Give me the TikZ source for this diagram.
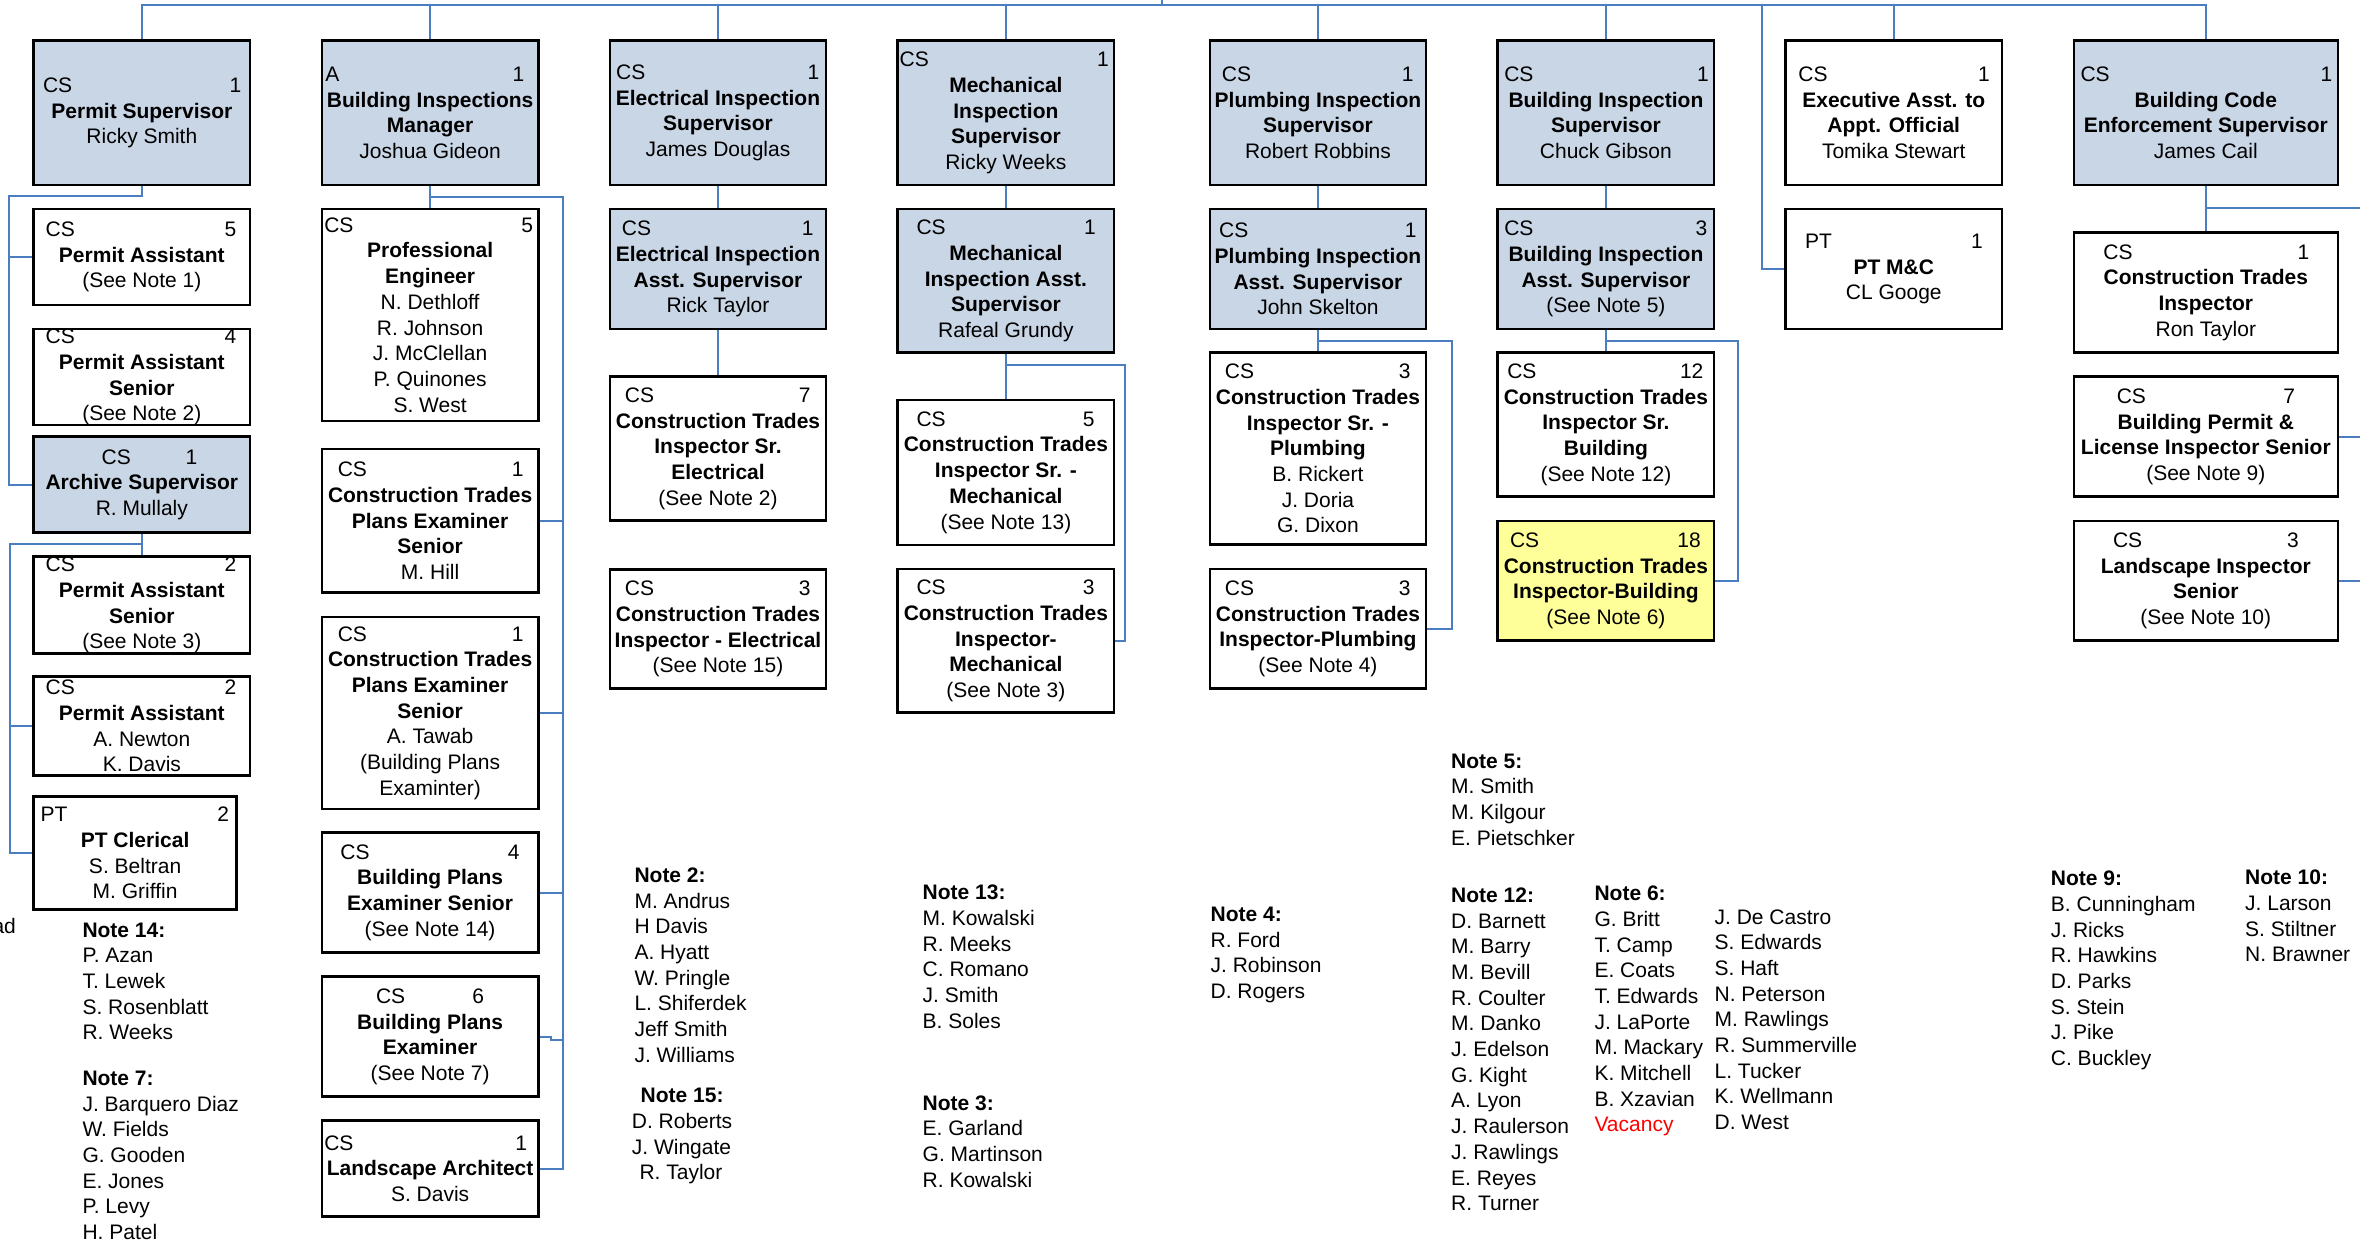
\documentclass[tikz,border=0pt]{standalone}
\usepackage{fontspec}
\setmainfont{Liberation Sans}
\usetikzlibrary{calc}
\definecolor{boxblue}{RGB}{201,214,230}
\definecolor{boxyellow}{RGB}{255,255,153}
\definecolor{connblue}{RGB}{74,126,193}
\newcommand{\boxfont}{\fontsize{21}{25.7}\selectfont}
\newcommand{\hdr}[4]{\hspace*{#1pt}#2\hfill #3\hspace*{#4pt}}
\newcommand{\orgbox}[8]{%
  \node[#2, minimum width={#5-#3}, minimum height={#6-#4}] (#1) at ({(#3+#5)/2},{(#4+#6)/2}) {};
  \pgfmathsetmacro\obw{#5-#3}%
  \node[txt] at (#1.center) {\makebox[\obw pt]{#7}\\#8};
}
\tikzset{
  boxbase/.style={draw=black, line width=2.5pt, rectangle, inner sep=0pt},
  hbox/.style={boxbase, fill=boxblue},
  wbox/.style={boxbase, fill=white},
  ybox/.style={boxbase, fill=boxyellow},
  conn/.style={draw=connblue, line width=2pt},
  txt/.style={align=center, inner sep=0pt, font=\boxfont},
  note/.style={align=left, anchor=north west, inner sep=0pt, font=\boxfont},
}
\begin{document}
\begin{tikzpicture}[x=1pt,y=-1pt]
\fill[white] (0,0) rectangle (2360,1242);
\useasboundingbox (0,0) rectangle (2360,1242);

% ---------- Column 1: Permits
\orgbox{ps}{hbox}{33.7}{40.7}{250}{185}{\hdr{9.3}{CS}{1}{8.8}}{\textbf{Permit Supervisor}\\Ricky Smith}
\orgbox{pa1}{wbox}{33.7}{209}{250}{305}{\hdr{12}{CS}{5}{13.6}}{\textbf{Permit Assistant}\\(See Note 1)}
\orgbox{pas2}{wbox}{33.7}{329}{250}{425}{\hdr{12}{CS}{4}{13.6}}{\textbf{Permit Assistant}\\\textbf{Senior}\\(See Note 2)}
\orgbox{arch}{hbox}{33.7}{436.7}{250}{532.7}{\hdr{68}{CS}{1}{52.8}}{\textbf{Archive Supervisor}\\R. Mullaly}
\orgbox{pas3}{wbox}{33.7}{556.7}{250}{653.3}{\hdr{12}{CS}{2}{13.6}}{\textbf{Permit Assistant}\\\textbf{Senior}\\(See Note 3)}
\orgbox{pa2}{wbox}{33.7}{676.7}{250}{775.7}{\hdr{12}{CS}{2}{13.6}}{\textbf{Permit Assistant}\\A. Newton\\K. Davis}
\orgbox{ptc}{wbox}{33.7}{796.7}{236.5}{909.3}{\hdr{7}{PT}{2}{7.5}}{\textbf{PT Clerical}\\S. Beltran\\M. Griffin}

% ---------- Column 2: Building Inspections Manager
\orgbox{bim}{hbox}{321.8}{40.7}{538.4}{185}{\hdr{3.5}{A}{1}{14}}{\textbf{Building Inspections}\\\textbf{Manager}\\Joshua Gideon}
\orgbox{pe}{wbox}{321.8}{209}{538.4}{421}{\hdr{2.5}{CS}{5}{5.4}}{\textbf{Professional}\\\textbf{Engineer}\\N. Dethloff\\R. Johnson\\J. McClellan\\P. Quinones\\S. West}
\orgbox{ctpesa}{wbox}{321.8}{449}{538.4}{592.7}{\hdr{16}{CS}{1}{14.8}}{\textbf{Construction Trades}\\\textbf{Plans Examiner}\\\textbf{Senior}\\M. Hill}
\orgbox{ctpesb}{wbox}{321.8}{617}{538.4}{809}{\hdr{16}{CS}{1}{14.8}}{\textbf{Construction Trades}\\\textbf{Plans Examiner}\\\textbf{Senior}\\A. Tawab\\(Building Plans\\Examinter)}
\orgbox{bpes}{wbox}{321.8}{832.7}{538.4}{952.3}{\hdr{18.6}{CS}{4}{18.8}}{\textbf{Building Plans}\\\textbf{Examiner Senior}\\(See Note 14)}
\orgbox{bpe}{wbox}{321.8}{976.7}{538.4}{1096.7}{\hdr{54.2}{CS}{6}{54.4}}{\textbf{Building Plans}\\\textbf{Examiner}\\(See Note 7)}
\orgbox{la}{wbox}{321.8}{1120.7}{538.4}{1216.7}{\hdr{2.5}{CS}{1}{11.4}}{\textbf{Landscape Architect}\\S. Davis}

% ---------- Column 3: Electrical
\orgbox{eis}{hbox}{609.9}{40.7}{826.1}{185}{\hdr{6.2}{CS}{1}{6.8}}{\textbf{Electrical Inspection}\\\textbf{Supervisor}\\James Douglas}
\orgbox{eias}{hbox}{609.9}{209}{826.1}{329}{\hdr{12}{CS}{1}{12.6}}{\textbf{Electrical Inspection}\\\textbf{Asst. Supervisor}\\Rick Taylor}
\orgbox{ctise}{wbox}{609.9}{376.7}{826.1}{520.7}{\hdr{15}{CS}{7}{15.5}}{\textbf{Construction Trades}\\\textbf{Inspector Sr.}\\\textbf{Electrical}\\(See Note 2)}
\orgbox{ctie}{wbox}{609.9}{569.3}{826.1}{688.7}{\hdr{15}{CS}{3}{15.5}}{\textbf{Construction Trades}\\\textbf{Inspector - Electrical}\\(See Note 15)}

% ---------- Column 4: Mechanical
\orgbox{mis}{hbox}{897.6}{40.7}{1114.2}{185}{\hdr{2.1}{CS}{1}{5.3}}{\textbf{Mechanical}\\\textbf{Inspection}\\\textbf{Supervisor}\\Ricky Weeks}
\orgbox{mias}{hbox}{897.6}{209}{1114.2}{352.7}{\hdr{18.9}{CS}{1}{18.3}}{\textbf{Mechanical}\\\textbf{Inspection Asst.}\\\textbf{Supervisor}\\Rafeal Grundy}
\orgbox{ctism}{wbox}{897.6}{400}{1114.2}{545}{\hdr{18.9}{CS}{5}{19.6}}{\textbf{Construction Trades}\\\textbf{Inspector Sr. -}\\\textbf{Mechanical}\\(See Note 13)}
\orgbox{ctim}{wbox}{897.6}{569}{1114.2}{712.7}{\hdr{18.9}{CS}{3}{19.6}}{\textbf{Construction Trades}\\\textbf{Inspector-}\\\textbf{Mechanical}\\(See Note 3)}

% ---------- Column 5: Plumbing
\orgbox{pis}{hbox}{1209.9}{40.7}{1426}{185}{\hdr{12}{CS}{1}{12.5}}{\textbf{Plumbing Inspection}\\\textbf{Supervisor}\\Robert Robbins}
\orgbox{pias}{hbox}{1209.9}{209}{1426}{329}{\hdr{9.3}{CS}{1}{9.4}}{\textbf{Plumbing Inspection}\\\textbf{Asst. Supervisor}\\John Skelton}
\orgbox{ctisp}{wbox}{1209.9}{352.7}{1426}{544.3}{\hdr{15}{CS}{3}{15.4}}{\textbf{Construction Trades}\\\textbf{Inspector Sr. -}\\\textbf{Plumbing}\\B. Rickert\\J. Doria\\G. Dixon}
\orgbox{ctip}{wbox}{1209.9}{569}{1426}{688.7}{\hdr{15}{CS}{3}{15.4}}{\textbf{Construction Trades}\\\textbf{Inspector-Plumbing}\\(See Note 4)}

% ---------- Column 6: Building Inspection
\orgbox{bis}{hbox}{1497.6}{40.7}{1714.2}{185}{\hdr{6.7}{CS}{1}{5.3}}{\textbf{Building Inspection}\\\textbf{Supervisor}\\Chuck Gibson}
\orgbox{bias}{hbox}{1497.6}{209}{1714.2}{329}{\hdr{6.7}{CS}{3}{7}}{\textbf{Building Inspection}\\\textbf{Asst. Supervisor}\\(See Note 5)}
\orgbox{ctisb}{wbox}{1497.6}{352.7}{1714.2}{496.7}{\hdr{9.7}{CS}{12}{10.8}}{\textbf{Construction Trades}\\\textbf{Inspector Sr.}\\\textbf{Building}\\(See Note 12)}
\orgbox{ctib}{ybox}{1497.6}{521}{1714.2}{640.7}{\hdr{12.4}{CS}{18}{13.5}}{\textbf{Construction Trades}\\\textbf{Inspector-Building}\\(See Note 6)}

% ---------- Column 7: Executive
\orgbox{exec}{wbox}{1785.3}{40.7}{2002.2}{185}{\hdr{13.1}{CS}{1}{12.5}}{\textbf{Executive Asst. to}\\\textbf{Appt. Official}\\Tomika Stewart}
\orgbox{ptmc}{wbox}{1785.3}{209}{2002.2}{329}{\hdr{19.8}{PT}{1}{19.4}}{\textbf{PT M\&C}\\CL Googe}

% ---------- Column 8: Code Enforcement
\orgbox{bces}{hbox}{2073.8}{40.7}{2337.8}{185}{\hdr{6.7}{CS}{1}{5.6}}{\textbf{Building Code}\\\textbf{Enforcement Supervisor}\\James Cail}
\orgbox{ctir}{wbox}{2073.8}{232.3}{2337.8}{352.7}{\hdr{29.6}{CS}{1}{28.6}}{\textbf{Construction Trades}\\\textbf{Inspector}\\Ron Taylor}
\orgbox{bpl}{wbox}{2073.8}{376.7}{2337.8}{496.7}{\hdr{43}{CS}{7}{42.9}}{\textbf{Building Permit \&}\\\textbf{License Inspector Senior}\\(See Note 9)}
\orgbox{lis}{wbox}{2073.8}{521}{2337.8}{640.7}{\hdr{39.2}{CS}{3}{39.1}}{\textbf{Landscape Inspector}\\\textbf{Senior}\\(See Note 10)}

% ---------- Connectors
\coordinate (parent) at (1162,0);
\coordinate (bus) at (1162,5);
\draw[conn] (parent) -- (bus);
\draw[conn] (ps.north) -- (ps.north |- bus) -- (bces.north |- bus) -- (bces.north);
\foreach \n in {bim,eis,mis,pis,bis,exec} \draw[conn] (\n.north) -- (\n.north |- bus);
\coordinate (ptbus) at (1762,5);
\draw[conn] (ptbus) |- (ptmc.west);

\coordinate (pjL) at (9,196);
\draw[conn] (ps.south) |- (pjL) |- (arch.west);
\draw[conn] (pjL |- pa1.west) -- (pa1.west);
\coordinate (ajL) at (9.6,544.3);
\draw[conn] (arch.south) -- (pas3.north);
\draw[conn] (arch.south |- ajL) -- (ajL) |- (ptc.west);
\draw[conn] (ajL |- pa2.west) -- (pa2.west);

\coordinate (bjR) at (562.5,197.3);
\draw[conn] (bim.south) -- (pe.north);
\draw[conn] (bim.south |- bjR) -- (bjR) |- (la.east);
\foreach \n in {ctpesa,ctpesb,bpes} \draw[conn] (\n.east) -- (\n.east -| bjR);
\draw[conn] (bpe.east) -- ++(11.6,0) -- ++(0,3.3) -- ++(12.5,0);

\draw[conn] (eis.south) -- (eias.north);
\draw[conn] (eias.south) -- (ctise.north);

\draw[conn] (mis.south) -- (mias.north);
\draw[conn] (mias.south) -- (ctism.north);
\coordinate (mjR) at (1125.3,365);
\draw[conn] (mias.south |- mjR) -- (mjR) |- (ctim.east);

\draw[conn] (pis.south) -- (pias.north);
\draw[conn] (pias.south) -- (ctisp.north);
\coordinate (pjR) at (1451.7,340.7);
\draw[conn] (pias.south |- pjR) -- (pjR) |- (ctip.east);

\draw[conn] (bis.south) -- (bias.north);
\draw[conn] (bias.south) -- (ctisb.north);
\coordinate (bjRb) at (1738,340.7);
\draw[conn] (bias.south |- bjRb) -- (bjRb) |- (ctib.east);

\draw[conn] (bces.south) -- (ctir.north);
\coordinate (cjR) at (2372,208.3);
\draw[conn] (bces.south |- cjR) -- (cjR) |- (lis.east);
\draw[conn] (bpl.east) -- (bpl.east -| cjR);

% ---------- Notes
\node[anchor=base east, inner sep=0pt, font=\boxfont] (ad) at (16.1,933) {ad};
\node[note] (n14) at (82.3,922.5) {\textbf{Note 14:}\\P. Azan\\T. Lewek\\S. Rosenblatt\\R. Weeks};
\node[note] (n7) at (82.3,1070.8) {\textbf{Note 7:}\\J. Barquero Diaz\\W. Fields\\G. Gooden\\E. Jones\\P. Levy\\H. Patel};
\node[note] (n2) at (634.3,867.5) {\textbf{Note 2:}\\M. Andrus\\H Davis\\A. Hyatt\\W. Pringle\\L. Shiferdek\\Jeff Smith\\J. Williams};
\node[note] (n15) at (631.7,1088.2) {\hspace*{8.8pt}\textbf{Note 15:}\\D. Roberts\\J. Wingate\\\hspace*{7.6pt}R. Taylor};
\node[note] (n13) at (922.5,884.8) {\textbf{Note 13:}\\M. Kowalski\\R. Meeks\\C. Romano\\J. Smith\\B. Soles};
\node[note] (n3) at (922.5,1095.2) {\textbf{Note 3:}\\E. Garland\\G. Martinson\\R. Kowalski};
\node[note] (n4) at (1210.4,906.8) {\textbf{Note 4:}\\R. Ford\\J. Robinson\\D. Rogers};
\node[note] (n5) at (1451,753.5) {\textbf{Note 5:}\\M. Smith\\M. Kilgour\\E. Pietschker};
\node[note] (n12) at (1451,887.5) {\textbf{Note 12:}\\D. Barnett\\M. Barry\\M. Bevill\\R. Coulter\\M. Danko\\J. Edelson\\G. Kight\\A. Lyon\\J. Raulerson\\J. Rawlings\\E. Reyes\\R. Turner};
\node[note] (n6a) at (1594.3,885.8) {\textbf{Note 6:}\\G. Britt\\T. Camp\\E. Coats\\T. Edwards\\J. LaPorte\\M. Mackary\\K. Mitchell\\B. Xzavian\\\textcolor{red}{Vacancy}};
\node[note] (n6b) at (1714.4,909.2) {J. De Castro\\S. Edwards\\S. Haft\\N. Peterson\\M. Rawlings\\R. Summerville\\L. Tucker\\K. Wellmann\\D. West};
\node[note] (n9) at (2050.7,870.8) {\textbf{Note 9:}\\B. Cunningham\\J. Ricks\\R. Hawkins\\D. Parks\\S. Stein\\J. Pike\\C. Buckley};
\node[note] (n10) at (2245,869.8) {\textbf{Note 10:}\\J. Larson\\S. Stiltner\\N. Brawner};
\end{tikzpicture}
\end{document}
